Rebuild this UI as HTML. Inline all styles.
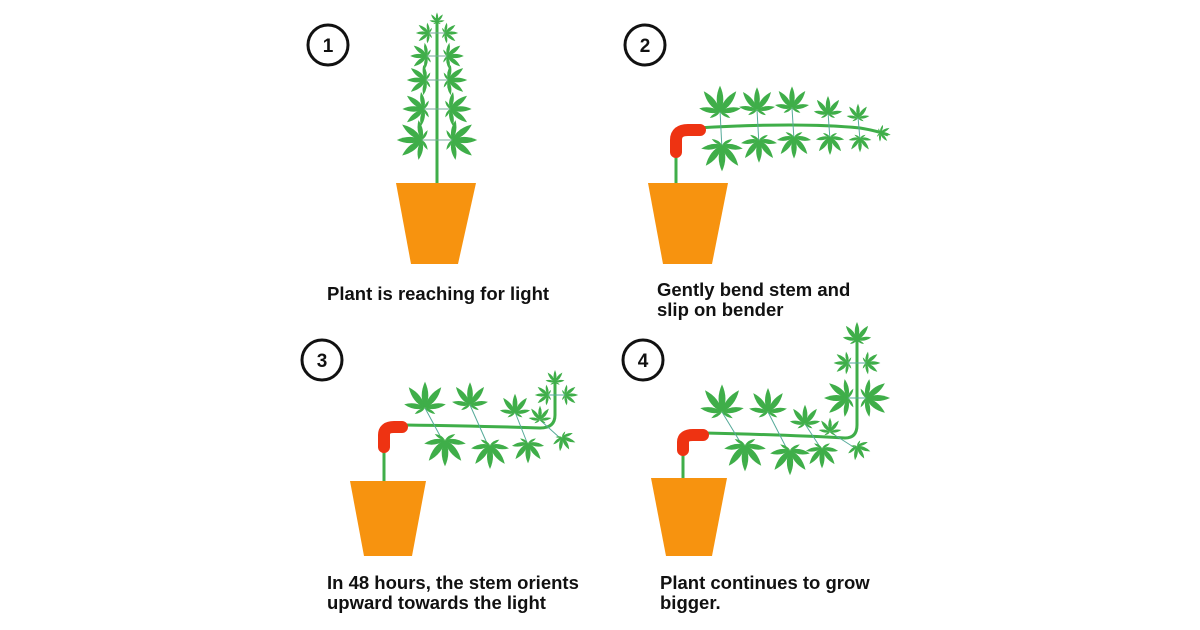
<!DOCTYPE html>
<html><head><meta charset="utf-8"><style>
html,body{margin:0;padding:0;background:#fff;width:1200px;height:630px;overflow:hidden}
svg{display:block}
text{font-family:"Liberation Sans",sans-serif;font-weight:bold;fill:#111}
</style></head><body>
<svg width="1200" height="630" viewBox="0 0 1200 630">
<defs>
<path id="lf" d="M0,0 Q6,-11 0,-24 Q-6,-11 0,0Z" fill="#3fae49"/>
<g id="leaf">
<use href="#lf"/>
<use href="#lf" transform="rotate(-38)"/>
<use href="#lf" transform="rotate(38)"/>
<use href="#lf" transform="rotate(-80) scale(.8)"/>
<use href="#lf" transform="rotate(80) scale(.8)"/>
<use href="#lf" transform="rotate(-120) scale(.45)"/>
<use href="#lf" transform="rotate(120) scale(.45)"/>
</g>
</defs>
<g fill="none" stroke="#111" stroke-width="3">
<circle cx="328" cy="45" r="20"/><circle cx="645" cy="45" r="20"/>
<circle cx="322" cy="360" r="20"/><circle cx="643" cy="360" r="20"/>
</g>
<g font-size="19" text-anchor="middle">
<text x="328" y="52">1</text><text x="645" y="52">2</text>
<text x="322" y="367">3</text><text x="643" y="367">4</text>
</g>
<g font-size="18.5">
<text x="327" y="300">Plant is reaching for light</text>
<text x="657" y="296">Gently bend stem and</text>
<text x="657" y="316">slip on bender</text>
<text x="327" y="589">In 48 hours, the stem orients</text>
<text x="327" y="609">upward towards the light</text>
<text x="660" y="589">Plant continues to grow</text>
<text x="660" y="609">bigger.</text>
</g>
<!-- pots -->
<g fill="#f7930f">
<polygon points="396,183 476,183 458,264 411,264"/>
<polygon points="648,183 728,183 712,264 663,264"/>
<polygon points="350,481 426,481 412,556 364,556"/>
<polygon points="651,478 727,478 712,556 666,556"/>
</g>
<!-- panel 1 -->
<g stroke="#3fae49" stroke-width="3" fill="none"><line x1="437" y1="183" x2="437" y2="18"/>
<g stroke-width="1" stroke="#7a9"><line x1="420" y1="140" x2="454" y2="140"/><line x1="422" y1="109" x2="452" y2="109"/><line x1="423" y1="80" x2="451" y2="80"/><line x1="424" y1="56" x2="450" y2="56"/><line x1="426" y1="33" x2="448" y2="33"/></g></g>
<use href="#leaf" transform="translate(422,140) rotate(-90) scale(1.05)"/>
<use href="#leaf" transform="translate(452,140) rotate(90) scale(1.05)"/>
<use href="#leaf" transform="translate(424,109) rotate(-90) scale(.9)"/>
<use href="#leaf" transform="translate(450,109) rotate(90) scale(.9)"/>
<use href="#leaf" transform="translate(426,80) rotate(-90) scale(.8)"/>
<use href="#leaf" transform="translate(448,80) rotate(90) scale(.8)"/>
<use href="#leaf" transform="translate(427,56) rotate(-90) scale(.7)"/>
<use href="#leaf" transform="translate(447,56) rotate(90) scale(.7)"/>
<use href="#leaf" transform="translate(429,33) rotate(-90) scale(.55)"/>
<use href="#leaf" transform="translate(445,33) rotate(90) scale(.55)"/>
<use href="#leaf" transform="translate(437,22) scale(.4)"/>
<!-- panel 2 -->
<g stroke="#3fae49" stroke-width="3" fill="none">
<line x1="676" y1="183" x2="676" y2="150"/>
<path d="M697,128 Q800,122 860,128 Q878,131 888,135"/>
</g>
<g stroke="#5a9" stroke-width="1" fill="none">
<line x1="720" y1="110" x2="722" y2="150"/><line x1="757" y1="110" x2="759" y2="145"/><line x1="792" y1="108" x2="794" y2="140"/><line x1="828" y1="112" x2="830" y2="140"/><line x1="858" y1="117" x2="860" y2="140"/></g>
<use href="#leaf" transform="translate(720,112) scale(1.1)"/>
<use href="#leaf" transform="translate(722,145) rotate(180) scale(1.1)"/>
<use href="#leaf" transform="translate(757,110) scale(.95)"/>
<use href="#leaf" transform="translate(759,140) rotate(180) scale(.95)"/>
<use href="#leaf" transform="translate(792,108) scale(.9)"/>
<use href="#leaf" transform="translate(794,137) rotate(180) scale(.9)"/>
<use href="#leaf" transform="translate(828,114) scale(.75)"/>
<use href="#leaf" transform="translate(830,137) rotate(180) scale(.75)"/>
<use href="#leaf" transform="translate(858,118) scale(.6)"/>
<use href="#leaf" transform="translate(860,138) rotate(180) scale(.6)"/>
<use href="#leaf" transform="translate(880,133) rotate(100) scale(.45)"/>
<path d="M676,152 L676,140 Q676,130 688,130 L700,130" stroke="#ee3312" stroke-width="12" fill="none" stroke-linecap="round"/>
<!-- panel 3 -->
<g stroke="#3fae49" stroke-width="3" fill="none">
<line x1="384" y1="481" x2="384" y2="445"/>
<path d="M405,425 Q480,426 540,428 Q555,428 555,415 L555,378"/>
</g>
<g stroke="#5a9" stroke-width="1" fill="none">
<line x1="425" y1="408" x2="445" y2="445"/><line x1="470" y1="405" x2="490" y2="450"/><line x1="515" y1="412" x2="528" y2="445"/><line x1="540" y1="420" x2="560" y2="438"/><line x1="545" y1="395" x2="572" y2="395"/></g>
<use href="#leaf" transform="translate(425,408) scale(1.1)"/>
<use href="#leaf" transform="translate(445,440) rotate(180) scale(1.1)"/>
<use href="#leaf" transform="translate(470,405) scale(.95)"/>
<use href="#leaf" transform="translate(490,445) rotate(180) scale(1)"/>
<use href="#leaf" transform="translate(515,413) scale(.8)"/>
<use href="#leaf" transform="translate(528,443) rotate(180) scale(.85)"/>
<use href="#leaf" transform="translate(540,420) scale(.6)"/>
<use href="#leaf" transform="translate(562,437) rotate(150) scale(.6)"/>
<use href="#leaf" transform="translate(548,395) rotate(-90) scale(.55)"/>
<use href="#leaf" transform="translate(565,395) rotate(90) scale(.55)"/>
<use href="#leaf" transform="translate(555,382) scale(.5)"/>
<path d="M384,447 L384,435 Q384,427 394,427 L402,427" stroke="#ee3312" stroke-width="12" fill="none" stroke-linecap="round"/>
<!-- panel 4 -->
<g stroke="#3fae49" stroke-width="3" fill="none">
<line x1="683" y1="478" x2="683" y2="452"/>
<path d="M705,433 Q790,435 845,438 Q857,438 857,425 L857,335"/>
</g>
<g stroke="#5a9" stroke-width="1" fill="none">
<line x1="722" y1="412" x2="745" y2="450"/><line x1="768" y1="412" x2="790" y2="455"/><line x1="805" y1="424" x2="822" y2="450"/><line x1="830" y1="432" x2="855" y2="448"/><line x1="845" y1="398" x2="870" y2="398"/><line x1="838" y1="363" x2="872" y2="363"/></g>
<use href="#leaf" transform="translate(722,412) scale(1.15)"/>
<use href="#leaf" transform="translate(745,445) rotate(180) scale(1.1)"/>
<use href="#leaf" transform="translate(768,412) scale(1)"/>
<use href="#leaf" transform="translate(790,450) rotate(180) scale(1.05)"/>
<use href="#leaf" transform="translate(805,424) scale(.8)"/>
<use href="#leaf" transform="translate(822,448) rotate(180) scale(.85)"/>
<use href="#leaf" transform="translate(830,432) scale(.6)"/>
<use href="#leaf" transform="translate(857,446) rotate(150) scale(.6)"/>
<use href="#leaf" transform="translate(848,398) rotate(-90) scale(1)"/>
<use href="#leaf" transform="translate(866,398) rotate(90) scale(1)"/>
<use href="#leaf" transform="translate(848,363) rotate(-90) scale(.6)"/>
<use href="#leaf" transform="translate(866,363) rotate(90) scale(.6)"/>
<use href="#leaf" transform="translate(857,340) scale(.75)"/>
<path d="M683,450 L683,442 Q683,435 693,435 L703,435" stroke="#ee3312" stroke-width="12" fill="none" stroke-linecap="round"/>
</svg>
</body></html>
